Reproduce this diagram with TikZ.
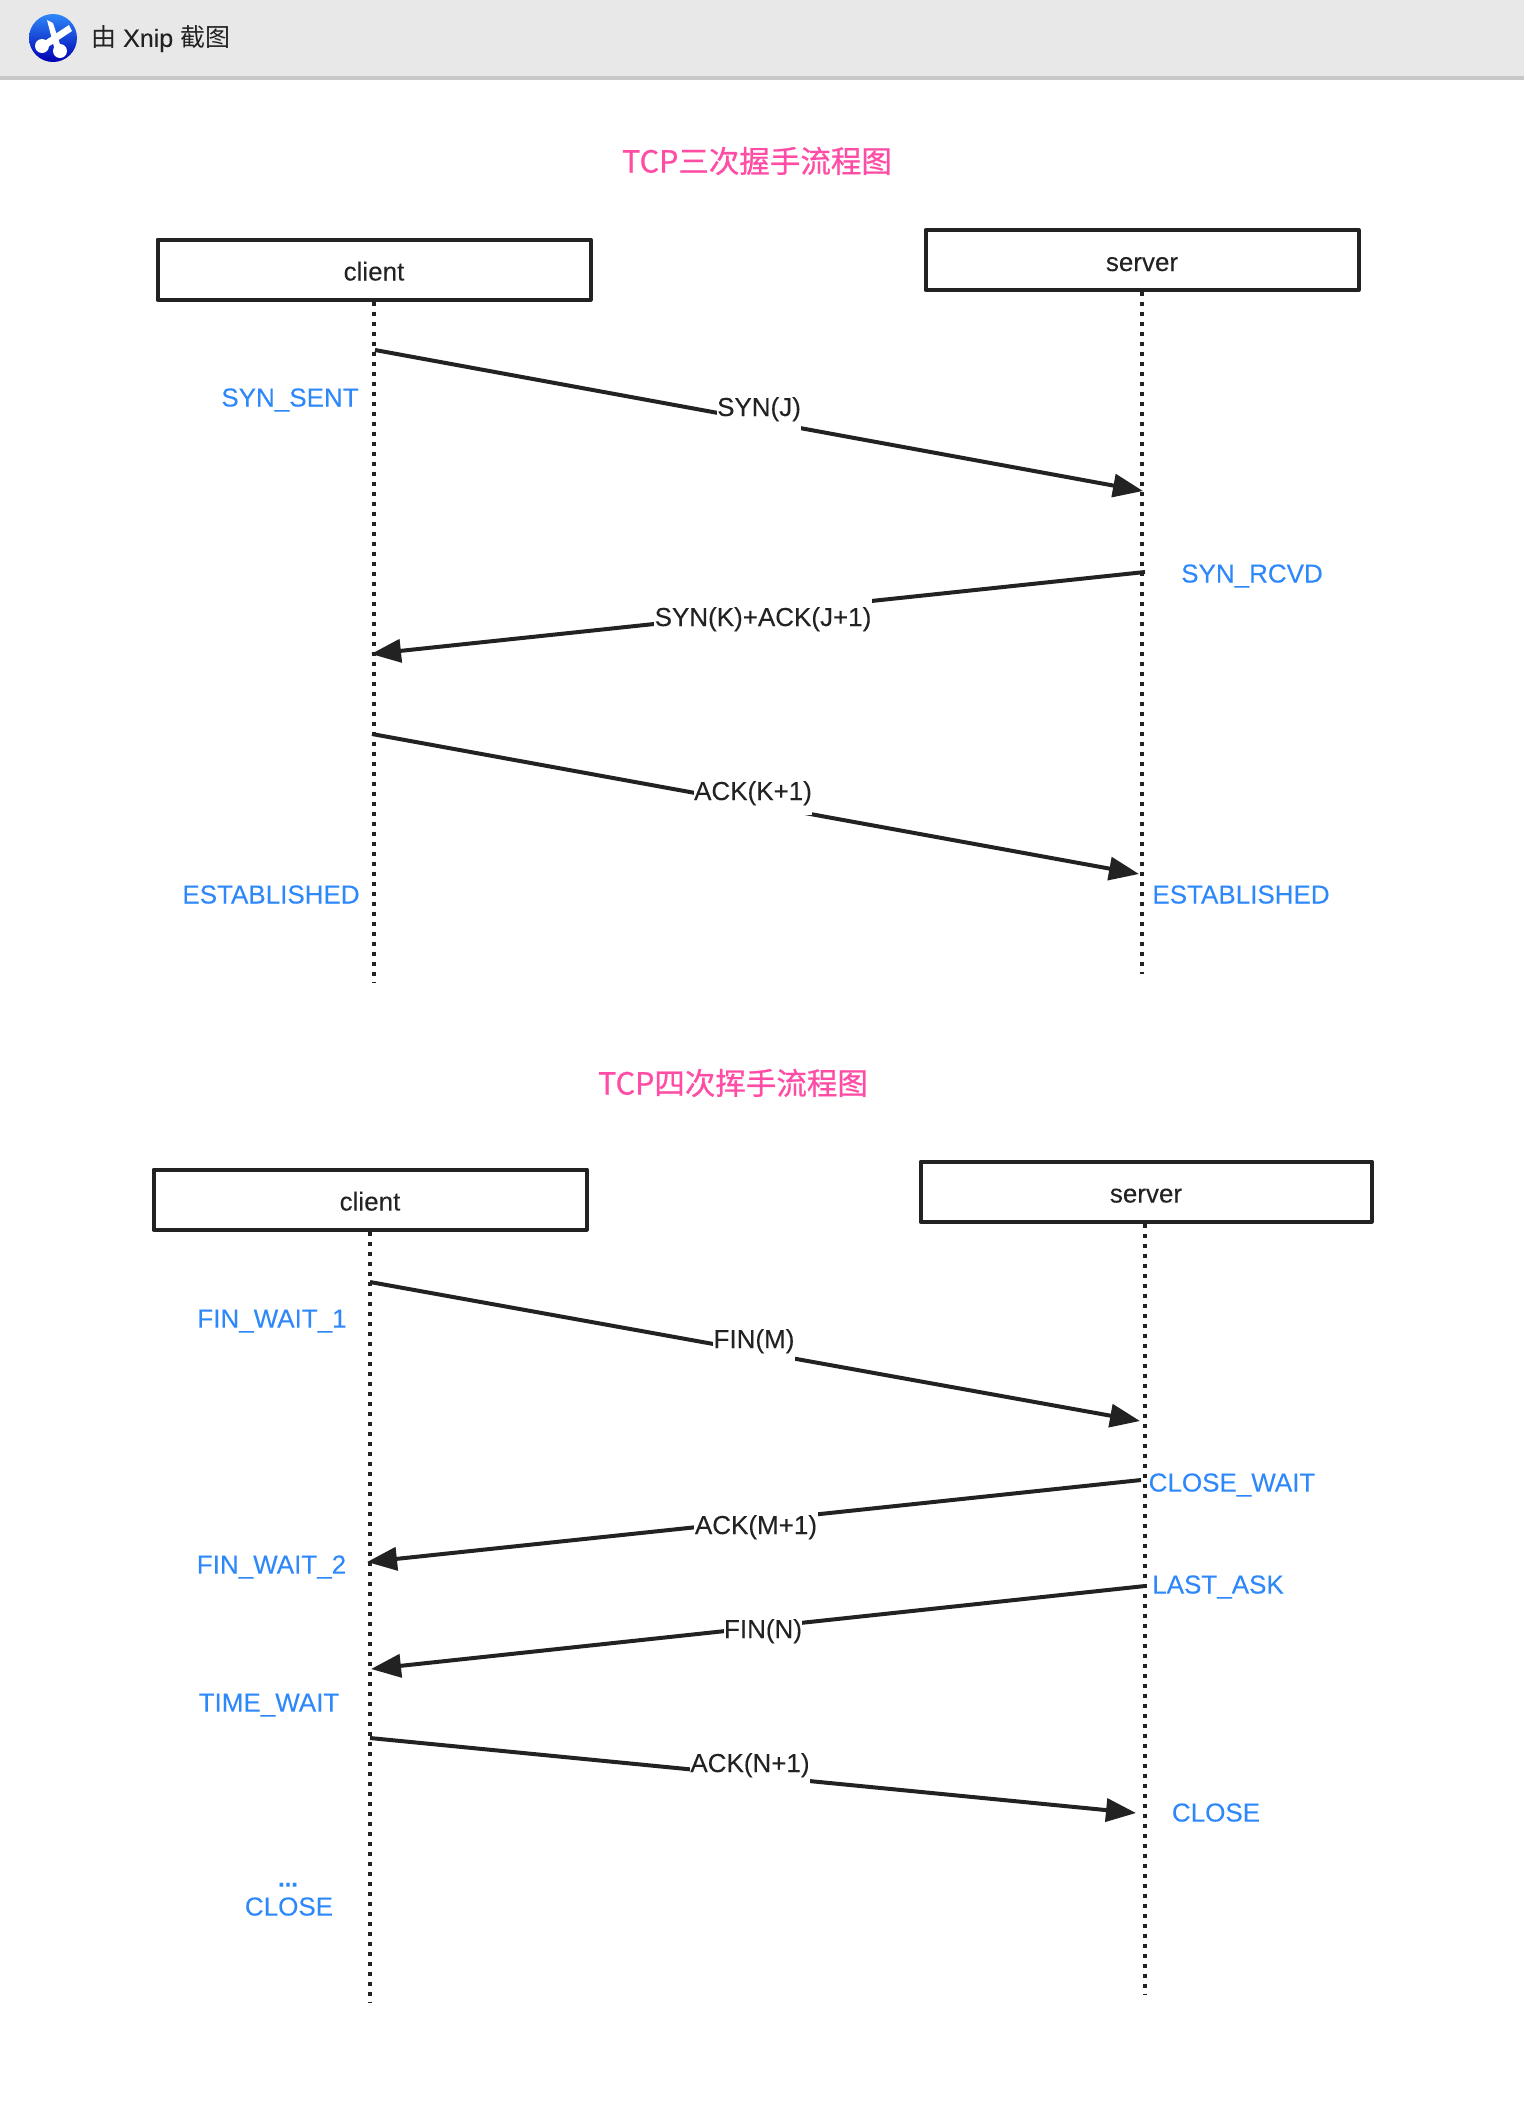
\documentclass[tikz,border=0pt]{standalone}
\usepackage{fontspec}
\setmainfont[FakeBold=0.12]{Liberation Sans}
\newfontfamily\cjkfont[FakeBold=0.8]{Noto Sans CJK SC}
\newfontfamily\barfont{Noto Sans CJK SC}
\usetikzlibrary{calc, positioning}
\usetikzlibrary{arrows.meta}
\definecolor{inkc}{HTML}{222222}
\definecolor{statec}{HTML}{2E88FA}
\definecolor{titlec}{HTML}{FF4DA6}
\definecolor{barc}{HTML}{E8E8E8}
\definecolor{barline}{HTML}{C8C8C8}
\tikzset{
  party/.style={draw=inkc, line width=4pt, line join=round, minimum height=60pt, inner sep=0pt, text height=22pt, text depth=0pt, text=inkc, font=\fontsize{26}{30}\selectfont},
  lifeline/.style={draw=inkc, line width=4pt, dash pattern=on 4pt off 6pt},
  msg/.style={draw=inkc, line width=4pt, -{Triangle[length=30pt,width=23pt]}},
  msglabel/.style={fill=white, inner xsep=0.5pt, inner ysep=0pt, minimum height=50pt, text height=20pt, text depth=0pt, text=inkc, font=\fontsize{26}{30}\selectfont},
  statelabel/.style={inner sep=0pt, text height=19pt, text depth=0pt, text=statec, font=\fontsize{26}{30}\selectfont},
  flowtitle/.style={inner sep=0pt, text=titlec, font=\fontsize{30.5}{34}\selectfont\cjkfont}
}
\begin{document}
\begin{tikzpicture}[x=1pt,y=-1pt]
\useasboundingbox (0,0) rectangle (1524,2110);

% top bar
\fill[barc] (0,0) rectangle (1524,76);
\fill[barline] (0,76) rectangle (1524,80);
\shade[top color=statec, bottom color=blue!70!black] (53,38) circle (24);
\fill[white] (47,20) -- (53,23) -- (60,44) -- (54,47) -- cycle;
\fill[white] (69,25) -- (72,31) -- (48,47) -- (43,42) -- cycle;
\fill[white] (42,46) circle (7);
\fill[white] (60,51) circle (7);
\node[inner sep=0pt, anchor=west, text=inkc, font=\fontsize{25}{30}\selectfont] (barlabel) at (91,39) {{\barfont 由} Xnip {\barfont 截图}};

% three way handshake
\node[flowtitle] (titleA) at (757,161) {TCP三次握手流程图};
\node[party, minimum width=433pt] (clientA) at (374,269.5) {client};
\node[party, minimum width=433pt] (serverA) at (1142,260) {server};
\coordinate (clientAend) at (374,983);
\coordinate (serverAend) at (1142,974);
\draw[lifeline] (clientA.south -| clientAend) -- (clientAend);
\draw[lifeline] (serverA.south -| serverAend) -- (serverAend);

\coordinate (synS) at (375,350);
\coordinate (synE) at (1143,491);
\coordinate (synackS) at (1145,572);
\coordinate (synackE) at (371,654);
\coordinate (ackS) at (372,734);
\coordinate (ackE) at (1139,874);
\draw[msg] (synS) -- (synE);
\draw[msg] (synackS) -- (synackE);
\draw[msg] (ackS) -- (ackE);
\node[msglabel] (synL) at (759,406) {SYN(J)};
\node[msglabel] (synackL) at (763,616) {SYN(K)+ACK(J+1)};
\node[msglabel] (ackL) at (753,790) {ACK(K+1)};

\foreach \nm/\xs/\ys/\lbl in {sent/290/397/SYN\_SENT,rcvd/1252/573/SYN\_RCVD,estC/271/894/ESTABLISHED,estS/1241/894/ESTABLISHED} {
  \node[statelabel] (\nm) at (\xs,\ys) {\lbl};
}

% four way wave
\node[flowtitle] (titleB) at (733,1083) {TCP四次挥手流程图};
\node[party, minimum width=433pt] (clientB) at (370,1199.5) {client};
\node[party, minimum width=451pt] (serverB) at (1146,1191.5) {server};
\coordinate (clientBend) at (370,2002);
\coordinate (serverBend) at (1145,1995);
\draw[lifeline] (clientB.south -| clientBend) -- (clientBend);
\draw[lifeline] (serverB.south -| serverBend) -- (serverBend);

\coordinate (finmS) at (370,1282);
\coordinate (finmE) at (1140,1421);
\coordinate (ackmS) at (1141,1480);
\coordinate (ackmE) at (367,1562);
\coordinate (finnS) at (1145,1586);
\coordinate (finnE) at (371,1669);
\coordinate (acknS) at (370,1738);
\coordinate (acknE) at (1136,1813);
\draw[msg] (finmS) -- (finmE);
\draw[msg] (ackmS) -- (ackmE);
\draw[msg] (finnS) -- (finnE);
\draw[msg] (acknS) -- (acknE);
\node[msglabel] (finmL) at (754,1338) {FIN(M)};
\node[msglabel] (ackmL) at (756,1524) {ACK(M+1)};
\node[msglabel] (finnL) at (763,1628) {FIN(N)};
\node[msglabel] (acknL) at (750,1762) {ACK(N+1)};

\foreach \nm/\xs/\ys/\lbl in {wait1/272/1318/FIN\_WAIT\_1,closewait/1232/1482/CLOSE\_WAIT,wait2/271.5/1564/FIN\_WAIT\_2,lastask/1218/1584/LAST\_ASK,timewait/269/1702/TIME\_WAIT,closeS/1216/1812/CLOSE,closeC/289/1906/CLOSE} {
  \node[statelabel] (\nm) at (\xs,\ys) {\lbl};
}
\node[statelabel, font=\fontsize{24}{30}\selectfont\bfseries] (dotsC) at (288,1877) {...};

\end{tikzpicture}
\end{document}
